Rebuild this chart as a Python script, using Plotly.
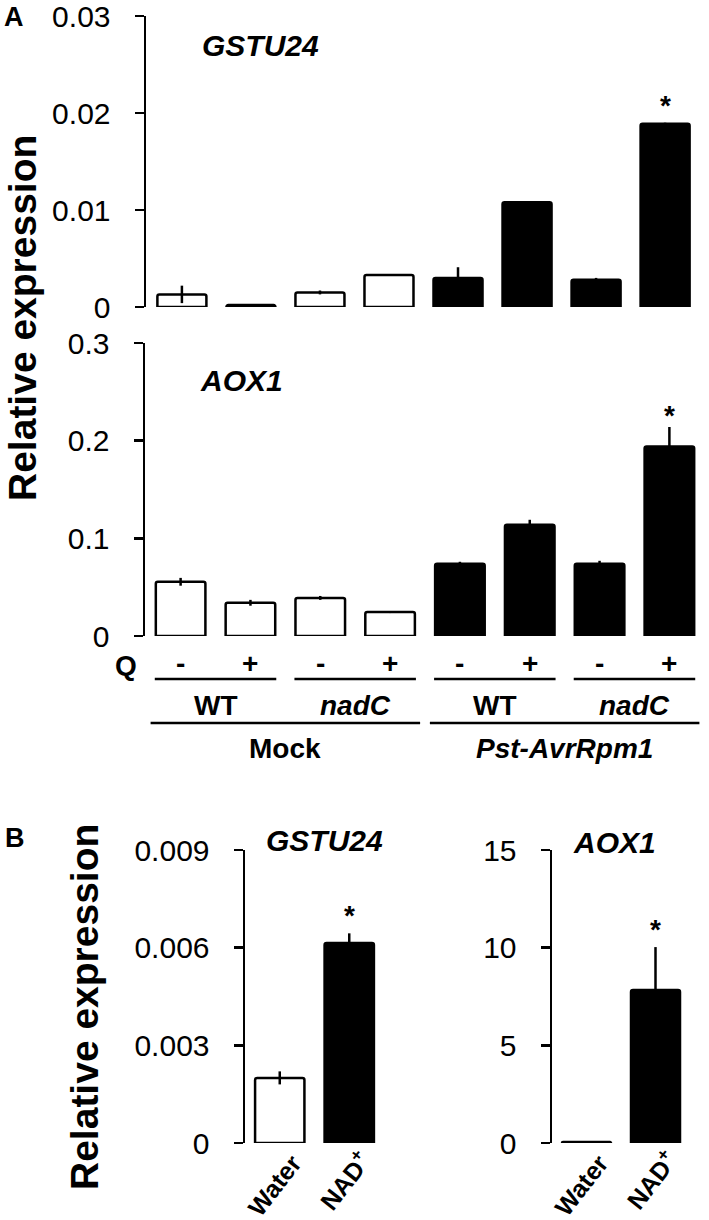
import plotly.graph_objects as go

W, H = 709, 1220
FONT = "Arial, Liberation Sans, sans-serif"

# ---------------- data ----------------
conditions = ["Mock WT -Q", "Mock WT +Q", "Mock nadC -Q", "Mock nadC +Q",
              "Pst WT -Q", "Pst WT +Q", "Pst nadC -Q", "Pst nadC +Q"]
bar_colors_A = ["white"] * 4 + ["black"] * 4
q_labels = ["-", "+", "-", "+", "-", "+", "-", "+"]
genotype_labels = ["WT", "<i>nadC</i>", "WT", "<i>nadC</i>"]
treatment_labels = ["Mock", "<i>Pst-AvrRpm1</i>"]

gstu24_A = [0.0013, 0.0002, 0.0015, 0.0033, 0.0030, 0.0108, 0.0028, 0.0189]
gstu24_A_err = [0.0009, 0.0001, 0.0002, 0.0001, 0.0011, 0.0001, 0.0002, 0.0001]
aox1_A = [0.0555, 0.034, 0.039, 0.0245, 0.074, 0.114, 0.074, 0.194]
aox1_A_err = [0.004, 0.003, 0.002, 0.001, 0.002, 0.005, 0.003, 0.020]
sig_A = [7]

treatments_B = ["Water", "NAD+"]
treatment_text_B = ["Water", "NAD<sup>+</sup>"]
bar_colors_B = ["white", "black"]
gstu24_B = [0.0020, 0.00614]
gstu24_B_err = [0.0002, 0.0003]
aox1_B = [0.05, 7.83]
aox1_B_err = [0.02, 2.2]
sig_B = [1]

ticks_A_top = [0, 0.01, 0.02, 0.03]
ticktext_A_top = ["0", "0.01", "0.02", "0.03"]
ticks_A_bot = [0, 0.1, 0.2, 0.3]
ticktext_A_bot = ["0", "0.1", "0.2", "0.3"]
ticks_B_left = [0, 0.003, 0.006, 0.009]
ticktext_B_left = ["0", "0.003", "0.006", "0.009"]
ticks_B_right = [0, 5, 10, 15]
ticktext_B_right = ["0", "5", "10", "15"]


def px_x(p):
    return p / W


def px_y(p):
    return 1 - p / H


fig = go.Figure()


def add_bars(x, y, err, colors, xa, ya):
    fig.add_trace(go.Bar(
        x=x, y=y, width=0.71,
        marker=dict(color=colors, line=dict(color="black", width=2.5), cornerradius=2),
        error_y=dict(type="data", array=err, visible=True, color="black",
                     thickness=2.5, width=0),
        xaxis=xa, yaxis=ya, showlegend=False, hoverinfo="skip",
    ))


add_bars(conditions, gstu24_A, gstu24_A_err, bar_colors_A, "x", "y")
add_bars(conditions, aox1_A, aox1_A_err, bar_colors_A, "x2", "y2")
add_bars(treatments_B, gstu24_B, gstu24_B_err, bar_colors_B, "x3", "y3")
add_bars(treatments_B, aox1_B, aox1_B_err, bar_colors_B, "x4", "y4")

yaxis_common = dict(showline=True, linecolor="black", linewidth=2.5,
                    ticks="outside", ticklen=9, tickwidth=2.5, tickcolor="black",
                    showgrid=False, zeroline=False, ticklabelstandoff=18, automargin=False,
                    ticklabeloverflow="allow",
                    tickfont=dict(family=FONT, size=30, color="black"))
xaxis_hidden = dict(type="category", showline=False, showticklabels=False,
                    ticks="", showgrid=False, zeroline=False, automargin=False)
xaxis_B = dict(type="category", showline=False, ticks="", showgrid=False, zeroline=False,
               automargin=False, showticklabels=False, range=[-0.5, 1.5])

fig.update_layout(
    width=W, height=H,
    margin=dict(l=0, r=0, t=0, b=0, autoexpand=False),
    paper_bgcolor="white", plot_bgcolor="white",
    xaxis=dict(domain=[px_x(146), px_x(701)], range=[-0.52, 7.52], anchor="y", **xaxis_hidden),
    yaxis=dict(domain=[px_y(307), px_y(16)], range=[0, 0.03], anchor="x",
               tickvals=ticks_A_top, ticktext=ticktext_A_top, **yaxis_common),
    xaxis2=dict(domain=[px_x(145), px_x(705)], range=[-0.51, 7.51], anchor="y2", **xaxis_hidden),
    yaxis2=dict(domain=[px_y(636), px_y(343)], range=[0, 0.3], anchor="x2",
                tickvals=ticks_A_bot, ticktext=ticktext_A_bot, **yaxis_common),
    xaxis3=dict(domain=[px_x(245), px_x(384)], anchor="y3", **xaxis_B),
    yaxis3=dict(domain=[px_y(1143), px_y(850)], range=[0, 0.009], anchor="x3",
                tickvals=ticks_B_left, ticktext=ticktext_B_left, **yaxis_common),
    xaxis4=dict(domain=[px_x(552), px_x(690)], anchor="y4", **xaxis_B),
    yaxis4=dict(domain=[px_y(1143), px_y(850)], range=[0, 15], anchor="x4",
                tickvals=ticks_B_right, ticktext=ticktext_B_right, **yaxis_common),
)

ann = []
shapes = []


def text(x, y, s, size=28, xref="paper", yref="paper", xanchor="center",
         yanchor="middle", angle=0, xshift=0, yshift=0, bold=True):
    ann.append(dict(x=x, y=y, xref=xref, yref=yref, text=s, showarrow=False,
                    xanchor=xanchor, yanchor=yanchor, textangle=angle,
                    xshift=xshift, yshift=yshift,
                    font=dict(family=FONT, size=size, color="black",
                              weight="bold" if bold else "normal")))


# panel letters
text(px_x(14), px_y(17), "A", size=27)
text(px_x(15), px_y(838), "B", size=27)

# y-axis titles
text(px_x(22), px_y(318), "Relative expression", size=39, angle=-90)
text(px_x(85), px_y(1007), "Relative expression", size=39, angle=-90)

# gene titles
text(px_x(200), px_y(46), "<i>GSTU24</i>", size=30, xanchor="left")
text(px_x(198), px_y(380), "<i>AOX1</i>", size=30, xanchor="left")
text(px_x(324), px_y(840), "<i>GSTU24</i>", size=30)
text(px_x(614), px_y(842), "<i>AOX1</i>", size=30)

# significance stars
for i in sig_A:
    text(i, gstu24_A[i] + gstu24_A_err[i], "*", size=28, xref="x", yref="y",
         yanchor="bottom", yshift=0)
    text(i, aox1_A[i] + aox1_A_err[i], "*", size=28, xref="x2", yref="y2",
         yanchor="bottom", yshift=-6)
for i in sig_B:
    text(i, gstu24_B[i] + gstu24_B_err[i], "*", size=28, xref="x3", yref="y3",
         yanchor="bottom", yshift=0)
    text(i, aox1_B[i] + aox1_B_err[i], "*", size=28, xref="x4", yref="y4",
         yanchor="bottom", yshift=0)

# rotated treatment labels for panel B
for xr in ["x3", "x4"]:
    for i, lab in enumerate(treatment_text_B):
        yc = 1185 if i == 0 else 1180
        text(i, px_y(yc), lab, size=25, xref=xr, angle=-52, xshift=-5)

# hierarchical x labels for panel A
text(px_x(126), px_y(665), "Q", size=28)
for i, q in enumerate(q_labels):
    text(i, px_y(663), q, size=28, xref="x2")

line_style = dict(color="black", width=2.5)
for k, g in enumerate(genotype_labels):
    c = 2 * k + 0.5
    shapes.append(dict(type="line", xref="x2", yref="paper", x0=c - 0.87, x1=c + 0.87,
                       y0=px_y(679), y1=px_y(679), line=line_style))
    text(c, px_y(705), g, size=28, xref="x2")

for k, t in enumerate(treatment_labels):
    c = 4 * k + 1.5
    shapes.append(dict(type="line", xref="x2", yref="paper", x0=c - 1.93, x1=c + 1.93,
                       y0=px_y(723), y1=px_y(723), line=line_style))
    text(c, px_y(748), t, size=28, xref="x2")

fig.update_layout(annotations=ann, shapes=shapes, hovermode=False)

fig.write_html("out.html", config={"displayModeBar": False, "staticPlot": True},
               post_script="document.body.style.margin='0';document.body.style.overflow='hidden';")
